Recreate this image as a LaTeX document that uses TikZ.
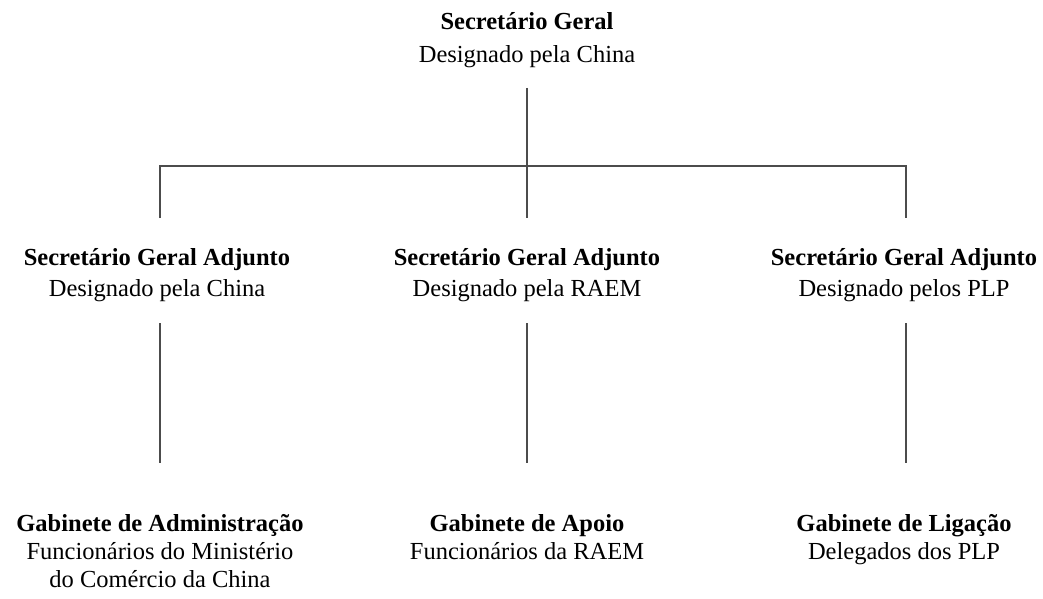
\documentclass[tikz,border=0pt]{standalone}
\usepackage{fontspec}
\setmainfont{Liberation Serif}
\begin{document}
\begin{tikzpicture}[x=1pt,y=-1pt,
  head/.style={anchor=base,inner sep=0pt,font=\fontsize{24.5}{30}\selectfont\bfseries},
  sub/.style={anchor=base,inner sep=0pt,font=\fontsize{24.5}{30}\selectfont},
  link/.style={draw=black!70,line width=2pt}]
\useasboundingbox (0,0) rectangle (1043,599);
% top
\node[head] (sg) at (527,30) {Secretário Geral};
\node[sub] (sgd) at (527,63) {Designado pela China};
% middle
\node[head] (a1) at (157,265) {Secretário Geral Adjunto};
\node[sub] (a1d) at (157,296) {Designado pela China};
\node[head] (a2) at (527,265) {Secretário Geral Adjunto};
\node[sub] (a2d) at (527,296) {Designado pela RAEM};
\node[head] (a3) at (904,265) {Secretário Geral Adjunto};
\node[sub] (a3d) at (904,296) {Designado pelos PLP};
% bottom
\node[head] (g1) at (160,531) {Gabinete de Administração};
\node[sub] (g1d) at (160,559) {Funcionários do Ministério};
\node[sub] (g1e) at (160,587) {do Comércio da China};
\node[head] (g2) at (527,531) {Gabinete de Apoio};
\node[sub] (g2d) at (527,559) {Funcionários da RAEM};
\node[head] (g3) at (904,531) {Gabinete de Ligação};
\node[sub] (g3d) at (904,559) {Delegados dos PLP};
% connector points
\coordinate (t0) at (527,88);
\coordinate (bm) at (527,166);
\coordinate (bl) at (160,166);
\coordinate (br) at (906,166);
\coordinate (l1) at (160,218);
\coordinate (m1) at (527,218);
\coordinate (r1) at (906,218);
\coordinate (l2) at (160,323);
\coordinate (l3) at (160,463);
\coordinate (m2) at (527,323);
\coordinate (m3) at (527,463);
\coordinate (r2) at (906,323);
\coordinate (r3) at (906,463);
\draw[link] (t0) -- (bm);
\draw[link] (l1) -- (bl) -- (br) -- (r1);
\draw[link] (bm) -- (m1);
\draw[link] (l2) -- (l3);
\draw[link] (m2) -- (m3);
\draw[link] (r2) -- (r3);
\end{tikzpicture}
\end{document}
